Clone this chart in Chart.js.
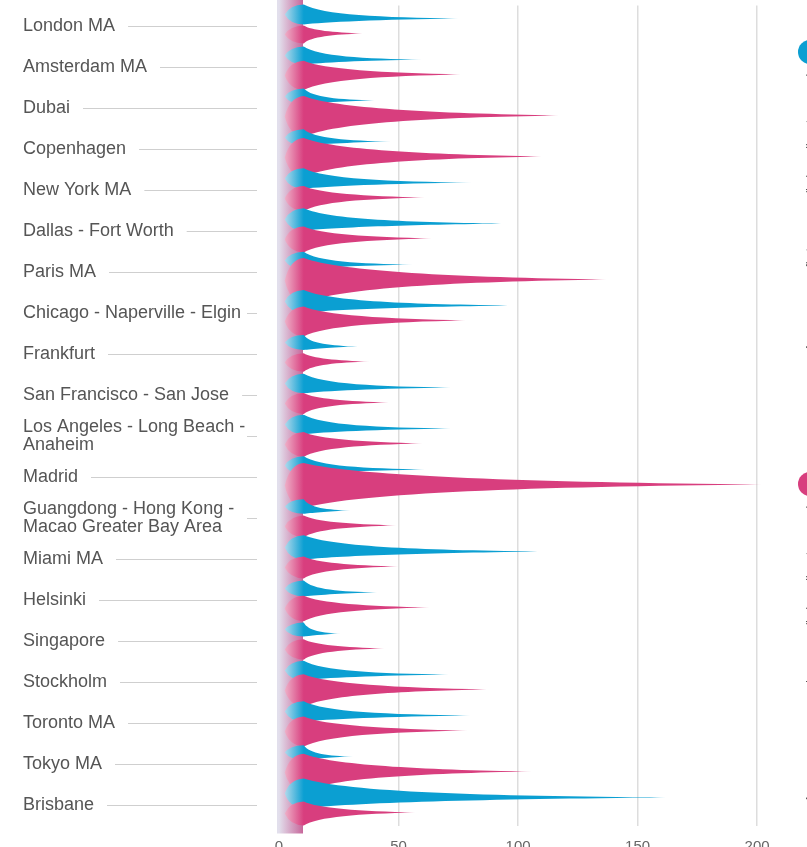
<!DOCTYPE html>
<html>
<head>
<meta charset="utf-8">
<style>
  html, body { margin: 0; padding: 0; background: #fff; overflow: hidden; }
  #wrap { position: relative; width: 807px; height: 847px; }
</style>
</head>
<body>
<div id="wrap"><canvas id="myChart"></canvas></div>
<script src="https://cdn.jsdelivr.net/npm/chart.js@4.4.1/dist/chart.umd.min.js"></script>
<script>
var cities = ["London MA", "Amsterdam MA", "Dubai", "Copenhagen", "New York MA",
  "Dallas - Fort Worth", "Paris MA", "Chicago - Naperville - Elgin", "Frankfurt",
  "San Francisco - San Jose", ["Los Angeles - Long Beach -", "Anaheim"], "Madrid",
  ["Guangdong - Hong Kong -", "Macao Greater Bay Area"], "Miami MA", "Helsinki",
  "Singapore", "Stockholm", "Toronto MA", "Tokyo MA", "Brisbane"];
var blueValues = [75, 60, 40, 47, 81, 97, 56, 100, 33, 72, 72, 61, 30, 113, 41, 26, 71, 80, 31, 162];
var pinkValues = [35, 76, 117, 110, 61, 64, 137, 78, 38, 46, 60, 202, 49, 50, 63, 44, 87, 79, 106, 57];
var xTicks = [0, 50, 100, 150, 200];
var blueLabel = "Average score, first measure (index, all metro areas)";
var pinkLabel = "Average score, second measure (index, all metro areas)";

var FONT = "'Liberation Sans', Arial, Helvetica, sans-serif";

var hornStyles = [
  { color: "#0b9fd2", light: "#dde9f3", fade: "rgba(11,159,210,0.35)", dy: -4,
    half: function (v) { return Math.min(15, 5.5 + v * 0.06); } },
  { color: "#d83e7e", light: "#f4cfdc", fade: "rgba(216,62,126,0.35)", dy: 1,
    half: function (v) { return Math.min(22.5, 4 + v * 0.14); } }
];

function drawHorn(ctx, base, tip, yc, h, st) {
  var xn = base + 5;
  var xh = base + 24;
  if (tip < xh + 12) tip = xh + 12;
  var L = tip - xh;
  var span = tip - base;
  var g = ctx.createLinearGradient(base, 0, tip, 0);
  g.addColorStop(0, st.light);
  g.addColorStop(24 / span, st.color);
  g.addColorStop(Math.max(1 - 14 / span, 24 / span + 0.01), st.color);
  g.addColorStop(1, st.fade);
  var yh = yc + st.dy;
  ctx.fillStyle = g;
  ctx.beginPath();
  ctx.moveTo(xn, yh);
  ctx.quadraticCurveTo(xn + 5, yh - h * 0.95, xh, yh - h);
  ctx.bezierCurveTo(xh + 0.12 * L, yc - 0.36 * h, xh + 0.5 * L, yc - 0.1 * h, tip, yc);
  ctx.bezierCurveTo(xh + 0.5 * L, yc + 0.1 * h, xh + 0.12 * L, yc + 0.36 * h, xh, yh + h);
  ctx.quadraticCurveTo(xn + 5, yh + h * 0.95, xn, yh);
  ctx.fill();
}

var hornPlugin = {
  id: 'horns',
  beforeDatasetsDraw: function (chart) {
    var ctx = chart.ctx, x0 = chart.scales.x.getPixelForValue(0);
    var g = ctx.createLinearGradient(x0, 0, x0 + 24, 0);
    g.addColorStop(0, "#e2dfec");
    g.addColorStop(1, "#c7679b");
    ctx.save();
    ctx.fillStyle = g;
    ctx.fillRect(x0 - 2, 0, 26, chart.chartArea.bottom + 8);
    ctx.restore();
  },
  afterDatasetsDraw: function (chart) {
    var ctx = chart.ctx;
    var metas = [chart.getDatasetMeta(0), chart.getDatasetMeta(1)];
    ctx.save();
    for (var i = 0; i < cities.length; i++) {
      for (var d = 0; d < 2; d++) {
        var el = metas[d].data[i];
        var v = chart.data.datasets[d].data[i];
        drawHorn(ctx, el.base, el.x, el.y, hornStyles[d].half(v), hornStyles[d]);
      }
    }
    ctx.restore();
  }
};

// thin leader lines after each city name, plus the rotated legend on the right
var sidePlugin = {
  id: 'side',
  afterDraw: function (chart) {
    var ctx = chart.ctx, ys = chart.scales.y;
    ctx.save();
    ctx.font = "18px " + FONT;
    ctx.strokeStyle = "#cfcfcf";
    ctx.lineWidth = 1;
    for (var i = 0; i < cities.length; i++) {
      var lines = [].concat(cities[i]);
      var w = 0;
      lines.forEach(function (t) { w = Math.max(w, ctx.measureText(t).width); });
      var y = Math.round(ys.getPixelForTick(i)) + 0.5;
      var start = Math.min(ys.left + w + 13, 247);
      ctx.beginPath();
      ctx.moveTo(start, y);
      ctx.lineTo(257, y);
      ctx.stroke();
    }

    var items = [[blueLabel, hornStyles[0].color, 52], [pinkLabel, hornStyles[1].color, 484]];
    items.forEach(function (it) {
      ctx.fillStyle = it[1];
      ctx.beginPath();
      ctx.arc(810, it[2], 12, 0, Math.PI * 2);
      ctx.fill();
      ctx.save();
      ctx.translate(815, it[2] + 20);
      ctx.rotate(-Math.PI / 2);
      ctx.fillStyle = "#555";
      ctx.font = "12px " + FONT;
      ctx.textAlign = "right";
      ctx.textBaseline = "alphabetic";
      ctx.fillText(it[0], 0, 0);
      ctx.restore();
    });
    ctx.restore();
  }
};

function renderChart() {
  var ctx = document.getElementById("myChart").getContext('2d');
  new Chart(ctx, {
    type: 'bar',
    data: {
      labels: cities,
      datasets: [
        { label: blueLabel, data: blueValues, backgroundColor: 'rgba(0,0,0,0)', borderWidth: 0,
          categoryPercentage: 0.73, barPercentage: 1 },
        { label: pinkLabel, data: pinkValues, backgroundColor: 'rgba(0,0,0,0)', borderWidth: 0,
          categoryPercentage: 0.73, barPercentage: 1 }
      ]
    },
    options: {
      indexAxis: 'y',
      responsive: true,
      maintainAspectRatio: false,
      animation: false,
      layout: { padding: { left: 23, right: 26, top: 5.5, bottom: 0 } },
      plugins: { legend: { display: false }, tooltip: { enabled: false } },
      scales: {
        x: {
          type: 'linear', min: 0, max: 210,
          afterBuildTicks: function (s) { s.ticks = xTicks.map(function (v) { return { value: v }; }); },
          afterFit: function (s) { s.height = 21.5; s.paddingLeft = 0; s.paddingRight = 0; },
          ticks: { color: '#666', font: { family: FONT, size: 15 }, padding: 12 },
          grid: { color: '#dddddd', lineWidth: 1.5, drawTicks: false },
          border: { display: false }
        },
        y: {
          afterFit: function (s) { s.width = 256; s.paddingTop = 0; s.paddingBottom = 0; },
          ticks: { crossAlign: 'far', autoSkip: false, padding: 0, color: '#555',
                   font: { family: FONT, size: 18, lineHeight: 1.0 } },
          grid: { display: false, drawTicks: false },
          border: { display: false }
        }
      }
    },
    plugins: [hornPlugin, sidePlugin]
  });
}

window.onload = function () {
  renderChart();
};
</script>
</body>
</html>
